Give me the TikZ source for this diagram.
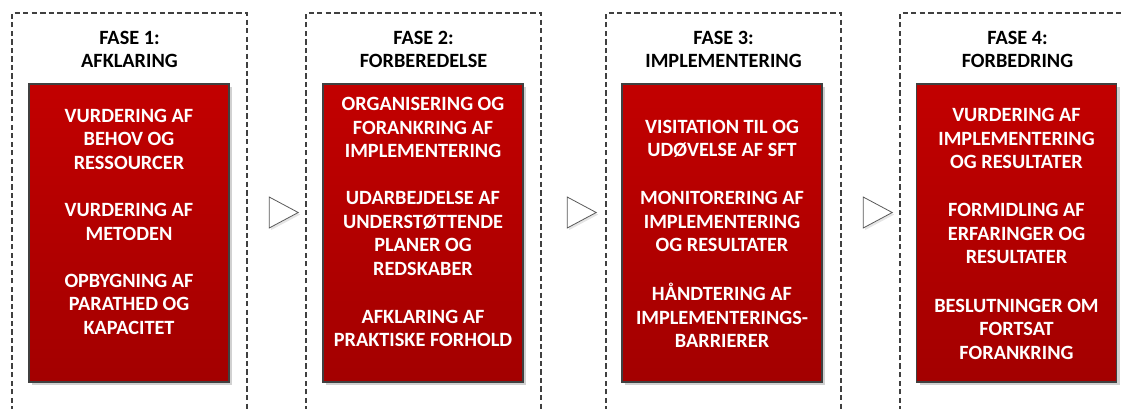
\documentclass[tikz,border=0pt]{standalone}
\usepackage{fontspec}
\setmainfont{Carlito}
\usetikzlibrary{shapes.geometric,shadows}
\definecolor{redtop}{RGB}{194,0,0}
\definecolor{redbot}{RGB}{163,0,0}
\definecolor{frame}{RGB}{64,64,64}
\definecolor{tri}{RGB}{90,90,90}
\tikzset{
  phase/.style={draw=frame, line width=1.1pt, dash pattern=on 4pt off 2.4pt},
  redbox/.style={draw=frame, line width=0.8pt, top color=redtop, bottom color=redbot,
    minimum width=150pt, minimum height=223.5pt, inner sep=0pt,
    general shadow={fill=black!18, shadow xshift=2.4pt, shadow yshift=-2.4pt}},
  title/.style={align=center, font=\fontsize{15.2}{16.9}\selectfont\bfseries, text=black, inner sep=0pt},
  item/.style={align=center, font=\fontsize{15.2}{17.6}\selectfont\bfseries, text=white, inner sep=0pt},
  chevron/.style={isosceles triangle, isosceles triangle stretches, draw=tri, line width=0.6pt,
    fill=white, minimum width=23.25pt, minimum height=21.75pt, inner sep=0pt,
    general shadow={fill=black!10, shadow xshift=1.5pt, shadow yshift=-1.5pt}}
}
\begin{document}
\begin{tikzpicture}[x=0.75pt,y=-0.75pt]
\useasboundingbox (0,0) rectangle (1123,408);
\clip (0,0) rectangle (1123,408);
% phase frames (open at the bottom)
\draw[phase] (12,420) -- (12,13) -- (247,13) -- (247,420);
\draw[phase] (306,420) -- (306,13) -- (541,13) -- (541,420);
\draw[phase] (606,420) -- (606,13) -- (841,13) -- (841,420);
\draw[phase] (900,420) -- (900,13) -- (1135,13) -- (1135,420);
% titles
\node[title] (t1) at (129.5,49.5) {FASE 1:\\AFKLARING};
\node[title] (t2) at (423.5,49.5) {FASE 2:\\FORBEREDELSE};
\node[title] (t3) at (723.5,49.5) {FASE 3:\\IMPLEMENTERING};
\node[title] (t4) at (1017.5,49.5) {FASE 4:\\FORBEDRING};
% red boxes
\node[redbox] (r1) at (129,233) {};
\node[redbox] (r2) at (423,233) {};
\node[redbox] (r3) at (722,233) {};
\node[redbox] (r4) at (1016.5,233) {};
% box 1
\node[item] (a1) at (129,139) {VURDERING AF\\BEHOV OG\\RESSOURCER};
\node[item] (a2) at (129,222) {VURDERING AF\\METODEN};
\node[item] (a3) at (129,304) {OPBYGNING AF\\PARATHED OG\\KAPACITET};
% box 2
\node[item] (b1) at (423,127.5) {ORGANISERING OG\\FORANKRING AF\\IMPLEMENTERING};
\node[item] (b2) at (423,233.4) {UDARBEJDELSE AF\\UNDERSTØTTENDE\\PLANER OG\\REDSKABER};
\node[item] (b3) at (423,328.4) {AFKLARING AF\\PRAKTISKE FORHOLD};
% box 3
\node[item] (c1) at (722,138.6) {VISITATION TIL OG\\UDØVELSE AF SFT};
\node[item] (c2) at (722,221.6) {MONITORERING AF\\IMPLEMENTERING\\OG RESULTATER};
\node[item] (c3) at (722,315.5) {HÅNDTERING AF\\IMPLEMENTERINGS-\\BARRIERER};
% box 4
\node[item] (d1) at (1016.5,138.7) {VURDERING AF\\IMPLEMENTERING\\OG RESULTATER};
\node[item] (d2) at (1016.5,233.7) {FORMIDLING AF\\ERFARINGER OG\\RESULTATER};
\node[item] (d3) at (1016.5,329) {BESLUTNINGER OM\\FORTSAT\\FORANKRING};
% chevrons between phases
\node[chevron] (s1) at (278.5,212.5) {};
\node[chevron] (s2) at (576.5,212.5) {};
\node[chevron] (s3) at (872.5,212.5) {};
\end{tikzpicture}
\end{document}
